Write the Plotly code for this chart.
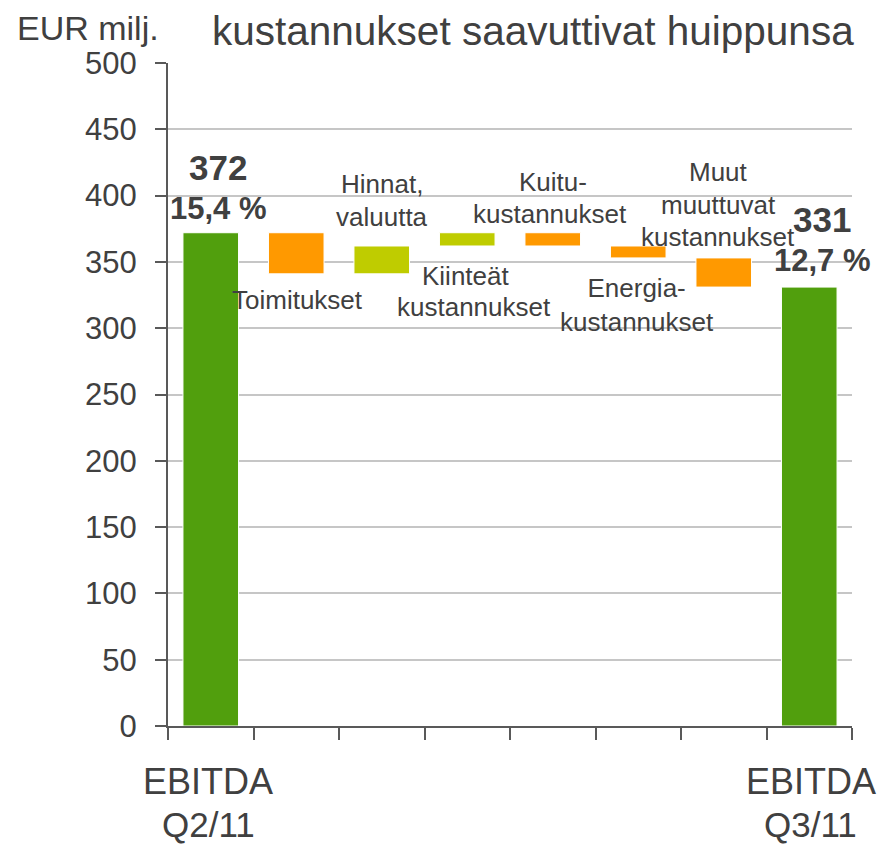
import plotly.graph_objects as go

# ---- data ----
categories = ["EBITDA Q2/11", "Toimitukset", "Hinnat, valuutta", "Kiinteät kustannukset",
              "Kuitukustannukset", "Energiakustannukset", "Muut muuttuvat kustannukset", "EBITDA Q3/11"]
measures = ["absolute", "relative", "relative", "relative", "relative", "relative", "relative", "total"]
values = [372, -31, 21, 10, -10, -9, -22, 0]
# in-chart labels: (category index, text, y position in EUR milj., x offset in categories)
label_lines = [
    (1, "Toimitukset", 321, 0.015),
    (2, "Hinnat,", 409, 0.0),
    (2, "valuutta", 384, 0.0),
    (3, "Kiinteät", 339, -0.02),
    (3, "kustannukset", 316, 0.077),
    (4, "Kuitu-", 410, 0.0),
    (4, "kustannukset", 386, -0.03),
    (5, "Energia-<br>kustannukset", 317.5, -0.02),
    (6, "Muut", 417.5, -0.06),
    (6, "muuttuvat", 393, -0.065),
    (6, "kustannukset", 368.5, -0.07),
]
totals = ["372", "331"]
margins = ["15,4 %", "12,7 %"]
axis_labels = [("EBITDA", "Q2/11"), ("EBITDA", "Q3/11")]
y_ticks = [0, 50, 100, 150, 200, 250, 300, 350, 400, 450, 500]

GREEN = "#519f0d"
ORANGE = "#ff9900"
LIME = "#bfcc00"
TXT = "#404040"
AX = "#595959"
FONT = "Liberation Sans, Arial, sans-serif"

xpos = list(range(len(categories)))

fig = go.Figure()
fig.add_trace(go.Waterfall(
    x=xpos, y=values, measure=measures,
    width=0.65,
    increasing=dict(marker=dict(color=LIME, line=dict(color="white", width=1))),
    decreasing=dict(marker=dict(color=ORANGE, line=dict(color="white", width=1))),
    totals=dict(marker=dict(color=GREEN, line=dict(color="white", width=1))),
    connector=dict(visible=False),
    textinfo="none", hoverinfo="skip", showlegend=False,
))

ann = []
for idx, txt, yv, dx in label_lines:
    ann.append(dict(x=xpos[idx] + dx, y=yv, xref="x", yref="y", text=txt,
                    showarrow=False, font=dict(size=26, color=TXT, family=FONT),
                    xanchor="center", yanchor="middle"))

# totals and margins
tot_x = [xpos[0] + 0.09, xpos[-1] + 0.15]
tot_y = [421, 382]
mar_x = [xpos[0] + 0.09, xpos[-1] + 0.16]
mar_y = [390, 351]
for k in range(2):
    ann.append(dict(x=tot_x[k], y=tot_y[k], xref="x", yref="y", text="<b>%s</b>" % totals[k],
                    showarrow=False, font=dict(size=35, color=TXT, family=FONT)))
    ann.append(dict(x=mar_x[k], y=mar_y[k], xref="x", yref="y", text="<b>%s</b>" % margins[k],
                    showarrow=False, font=dict(size=31, color=TXT, family=FONT)))

# bottom axis labels
ax_x = [xpos[0] - 0.03, xpos[-1] + 0.02]
for k in range(2):
    ann.append(dict(x=ax_x[k], y=-0.083, xref="x", yref="paper", text=axis_labels[k][0],
                    showarrow=False, font=dict(size=36, color=TXT, family=FONT), yanchor="middle"))
    ann.append(dict(x=ax_x[k], y=-0.149, xref="x", yref="paper", text=axis_labels[k][1],
                    showarrow=False, font=dict(size=35, color=TXT, family=FONT), yanchor="middle"))

# unit and title
ann.append(dict(x=-0.224, y=1.053, xref="paper", yref="paper", text="EUR milj.",
                showarrow=False, xanchor="left", yanchor="middle",
                font=dict(size=34, color=TXT, family=FONT)))
ann.append(dict(x=0.062, y=1.0483, xref="paper", yref="paper", text="kustannukset saavuttivat huippunsa",
                showarrow=False, xanchor="left", yanchor="middle",
                font=dict(size=40.5, color=TXT, family=FONT)))

fig.update_layout(
    width=881, height=839,
    margin=dict(l=160, r=37, t=55, b=121),
    paper_bgcolor="white", plot_bgcolor="white",
    font=dict(family=FONT, color=TXT),
    annotations=ann,
    xaxis=dict(range=[-0.5, len(categories) - 0.5], tickvals=[i - 0.5 for i in range(len(categories) + 1)],
               showticklabels=False, ticks="outside", ticklen=12, tickwidth=2, tickcolor=AX,
               showline=True, linecolor=AX, linewidth=2, showgrid=False, zeroline=False, fixedrange=True),
    yaxis=dict(range=[0, 500], tickvals=y_ticks, ticks="outside", ticklen=11, tickwidth=2, tickcolor=AX,
               showline=True, linecolor=AX, linewidth=2, showgrid=True, gridcolor="#c6c6c6", gridwidth=1.5,
               zeroline=False, tickfont=dict(size=31, color=TXT, family=FONT), ticklabelstandoff=12,
               fixedrange=True),
)

fig.write_html("out.html")
